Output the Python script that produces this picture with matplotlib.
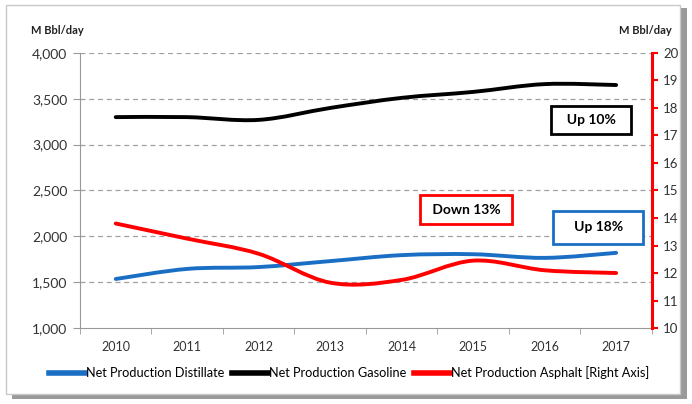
import numpy as np
import matplotlib.pyplot as plt
from matplotlib.path import Path
from matplotlib.patches import PathPatch, Rectangle
from matplotlib.lines import Line2D

plt.rcParams['font.family'] = ['Lato', 'DejaVu Sans']

# data
years = ['2010', '2011', '2012', '2013', '2014', '2015', '2016', '2017']
distillate = [1535, 1645, 1665, 1730, 1795, 1805, 1765, 1820]
gasoline = [3300, 3300, 3270, 3400, 3510, 3575, 3660, 3650]
asphalt = [13.8, 13.25, 12.7, 11.65, 11.75, 12.45, 12.1, 12.0]
left_ticks = [1000, 1500, 2000, 2500, 3000, 3500, 4000]
right_ticks = list(range(10, 21))


def smooth_path(xs, ys, t=1/6):
    # excel style smoothed line, cubic bezier through the points
    xs = np.asarray(xs, float)
    ys = np.asarray(ys, float)
    verts = [(xs[0], ys[0])]
    codes = [Path.MOVETO]
    n = len(xs)
    for i in range(n - 1):
        p0 = i - 1 if i > 0 else i
        p3 = i + 2 if i + 2 < n else i + 1
        c1 = (xs[i] + (xs[i + 1] - xs[p0]) * t, ys[i] + (ys[i + 1] - ys[p0]) * t)
        c2 = (xs[i + 1] - (xs[p3] - xs[i]) * t, ys[i + 1] - (ys[p3] - ys[i]) * t)
        verts += [c1, c2, (xs[i + 1], ys[i + 1])]
        codes += [Path.CURVE4] * 3
    return Path(verts, codes)


fig = plt.figure(figsize=(6.92, 4.04), dpi=100)
# frame with shadow round the chart
fig.patches.append(Rectangle((0.018, 0.012), 0.975, 0.968, transform=fig.transFigure,
                             facecolor='#9a9a9a', edgecolor='none', zorder=-3))
fig.patches.append(Rectangle((0.008, 0.025), 0.975, 0.962, transform=fig.transFigure,
                             facecolor='white', edgecolor='#c8c8c8', lw=1, zorder=-2))

ax = fig.add_axes([0.1156, 0.188, 0.8264, 0.681])
ax2 = ax.twinx()

x = np.arange(len(years))
blue = '#1a6fc4'
red = '#ff0000'

ax.add_patch(PathPatch(smooth_path(x, distillate), facecolor='none', edgecolor=blue,
                       lw=2.8, capstyle='round', zorder=3))
ax.add_patch(PathPatch(smooth_path(x, gasoline), facecolor='none', edgecolor='black',
                       lw=2.8, capstyle='round', zorder=3))
ax2.add_patch(PathPatch(smooth_path(x, asphalt), facecolor='none', edgecolor=red,
                        lw=2.8, capstyle='round', zorder=3))

ax.set_xlim(-0.5, 7.5)
ax.set_ylim(1000, 4000)
ax2.set_ylim(10, 20)

ax.set_yticks(left_ticks)
ax.set_yticklabels([f'{v:,}' for v in left_ticks])
ax2.set_yticks(right_ticks)

ax.set_xticks(x)
ax.set_xticklabels(years)
ax.set_xticks(np.arange(-0.5, 8, 1), minor=True)
ax.tick_params(axis='x', which='major', length=0, pad=9, labelsize=9, colors='#333333')
ax.tick_params(axis='x', which='minor', length=4, color='#999999', direction='out')
ax.tick_params(axis='y', length=5, color='#999999', labelsize=10, colors='#333333', pad=4)
ax.tick_params(axis='y', color='#999999')
ax2.tick_params(axis='y', length=4, width=1.5, color=red, labelsize=9.5, labelcolor='#333333', pad=4)

for y in left_ticks[1:]:
    ax.axhline(y, color='#a0a0a0', lw=0.9, ls=(0, (4, 3)), zorder=1)

for s in ['top', 'right']:
    ax.spines[s].set_visible(False)
ax.spines['left'].set_color('#999999')
ax.spines['bottom'].set_color('#999999')
for s in ['top', 'left', 'bottom']:
    ax2.spines[s].set_visible(False)
ax2.spines['right'].set_color(red)
ax2.spines['right'].set_linewidth(2.2)

fig.text(0.045, 0.915, 'M Bbl/day', fontsize=8, fontweight='bold', color='#222222')
fig.text(0.895, 0.915, 'M Bbl/day', fontsize=8, fontweight='bold', color='#222222')

box = dict(boxstyle='square,pad=0.6', facecolor='white', lw=2)
ax.text(6.65, 3270, '  Up 10%  ', ha='center', va='center', fontsize=10, fontweight='bold',
        bbox=dict(box, edgecolor='black'), zorder=5)
ax.text(4.9, 2290, ' Down 13% ', ha='center', va='center', fontsize=10, fontweight='bold',
        bbox=dict(box, edgecolor=red), zorder=5)
ax.text(6.75, 2100, '   Up 18%   ', ha='center', va='center', fontsize=10, fontweight='bold',
        bbox=dict(box, edgecolor=blue, boxstyle='square,pad=0.75'), zorder=5)

handles = [Line2D([], [], color=blue, lw=4),
           Line2D([], [], color='black', lw=4),
           Line2D([], [], color=red, lw=4)]
labels = ['Net Production Distillate', 'Net Production Gasoline',
          'Net Production Asphalt [Right Axis]']
fig.legend(handles, labels, loc='center', bbox_to_anchor=(0.505, 0.078), ncol=3,
           frameon=False, fontsize=9.2, handlelength=2.8, handletextpad=0.1,
           columnspacing=0.6)

fig.savefig('out.png', dpi=100)
